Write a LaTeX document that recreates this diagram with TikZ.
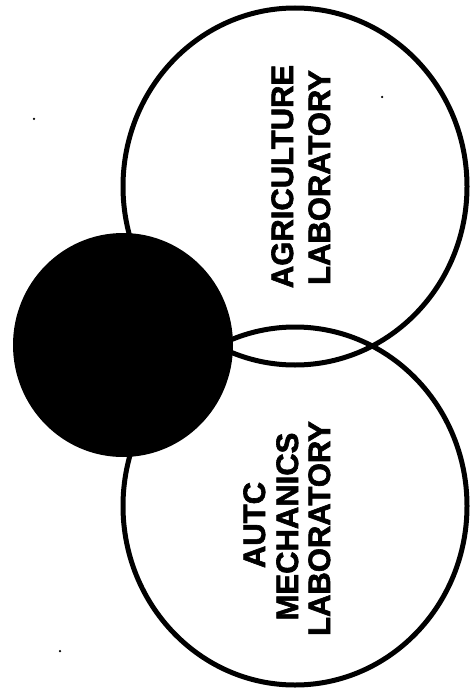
\documentclass[tikz,border=0pt]{standalone}
\usepackage{fontspec}
\setmainfont{Liberation Sans}
\newfontfamily\labfont{Liberation Sans Bold}[FakeBold=2]
\usetikzlibrary{shapes.geometric}
\begin{document}
\begin{tikzpicture}[x=1pt,y=-1pt,
  ring/.style={ellipse, draw=black, line width=5pt, inner sep=0pt, outer sep=0pt},
  blob/.style={ellipse, fill=black, inner sep=0pt, outer sep=0pt},
  lab/.style={rotate=90, anchor=base, inner sep=0pt, font=\labfont\fontsize{31}{37}\selectfont},
  speck/.style={fill=black, circle, inner sep=0pt, minimum size=2.5pt}]
\useasboundingbox[fill=white] (0,0) rectangle (470,695);
\node[ring, minimum width=344pt, minimum height=357pt] (agri) at (295,186.5) {};
\node[ring, minimum width=344pt, minimum height=358pt] (auto) at (295,506) {};
\node[blob, minimum width=220pt, minimum height=224pt] (core) at (123,345) {};
\node[lab] (agri1) at (293,176.5) {AGRICULTURE};
\node[lab] (agri2) at (330,177.5) {LABORATORY};
\node[lab] (auto1) at (265,525) {AUTC};
\node[lab] (auto2) at (298,526.5) {MECHANICS};
\node[lab] (auto3) at (330,528.5) {LABORATORY};
\node[speck] (d1) at (34,119) {};
\node[speck] (d2) at (382,97) {};
\node[speck] (d3) at (60,651) {};
\end{tikzpicture}
\end{document}
